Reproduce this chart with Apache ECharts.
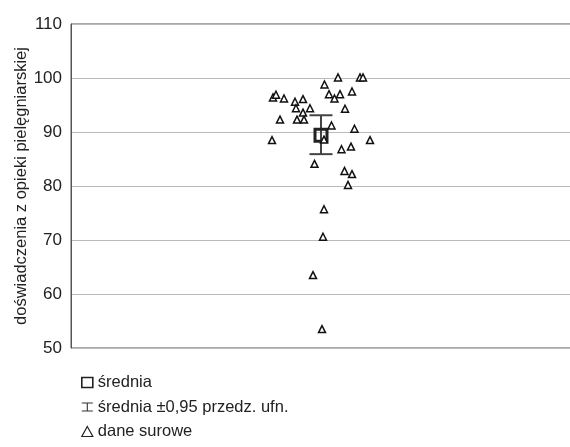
<!DOCTYPE html>
<html>
<head>
<meta charset="utf-8">
<script src="https://cdn.jsdelivr.net/npm/echarts@6/dist/echarts.min.js"></script>
<style>
  html, body { margin: 0; padding: 0; background: #fff; }
  #chart { width: 570px; height: 447px; }
</style>
</head>
<body>
<div id="chart"></div>
<script>
// surowe dane: przesunięcie w poziomie (rozrzut) i wartość
const rawJitter = [-4.8, -4.5, -3.7, -2.6, -1.8, -2.5, -1.8, -1.1, -4.1, -2.4, -1.7, -4.9,
                   1.7, 3.9, 4.2, 0.35, 0.8, 1.9, 1.35, 3.1, 2.4, 1.05, 3.35, 4.9,
                   0.3, 2.05, 3.0, -0.65, 2.35, 3.1, 2.7, 0.3, 0.2, -0.8, 0.1];
const rawValues = [96.4, 96.9, 96.2, 95.6, 96.1, 94.4, 93.6, 94.4, 92.3, 92.3, 92.3, 88.5,
                   100.1, 100.1, 100.1, 98.8, 97.0, 97.0, 96.2, 97.5, 94.3, 91.2, 90.6, 88.5,
                   88.6, 86.8, 87.3, 84.1, 82.8, 82.2, 80.2, 75.7, 70.6, 63.5, 53.5];
const meanValue = 89.4;
const ciLow = 85.9;
const ciHigh = 93.1;
const yTicks = [50, 60, 70, 80, 90, 100, 110];
const seriesNames = ['średnia', 'średnia ±0,95 przedz. ufn.', 'dane surowe'];
const yAxisTitle = 'doświadczenia z opieki pielęgniarskiej';

const font = "'Liberation Sans Narrow', 'Arial Narrow', 'Liberation Sans', Arial, sans-serif";

const chart = echarts.init(document.getElementById('chart'), null, { renderer: 'canvas' });

const rawData = rawValues.map((v, i) => [rawJitter[i], v]);

const option = {
  animation: false,
  backgroundColor: '#fff',
  grid: {
    left: 71, right: -1, top: 24, bottom: 99,
    outerBoundsMode: 'none',
    show: true, borderColor: '#555', borderWidth: 1, backgroundColor: 'transparent'
  },
  xAxis: {
    type: 'value', min: -25, max: 25,
    axisLine: { show: false }, axisTick: { show: false },
    axisLabel: { show: false }, splitLine: { show: false }
  },
  yAxis: {
    type: 'value', min: yTicks[0], max: yTicks[yTicks.length - 1], interval: 10,
    name: yAxisTitle, nameLocation: 'middle', nameRotate: 90, nameGap: 41,
    nameMoveOverlap: false,
    nameTextStyle: { fontFamily: font, fontSize: 16.5, color: '#222' },
    axisLine: { show: true, onZero: false, lineStyle: { color: '#555' } },
    axisTick: { show: false },
    axisLabel: { fontFamily: font, fontSize: 17, color: '#222', margin: 9 },
    splitLine: { show: true, lineStyle: { color: '#bbb', width: 1 } }
  },
  legend: {
    orient: 'vertical', left: 76, top: 369,
    itemWidth: 11, itemHeight: 10, itemGap: 7.5,
    textStyle: { fontFamily: font, fontSize: 16.5, color: '#222' },
    data: [
      { name: seriesNames[0], icon: 'rect',
        itemStyle: { color: '#fff', borderColor: '#222', borderWidth: 1.6 } },
      { name: seriesNames[1],
        icon: 'path://M0,0h12v1.3h-12z M5.4,0h1.2v10h-1.2z M0,8.7h12v1.3h-12z',
        itemStyle: { color: '#333', borderWidth: 0 } },
      { name: seriesNames[2], icon: 'triangle',
        itemStyle: { color: '#fff', borderColor: '#222', borderWidth: 1.2 } }
    ]
  },
  series: [
    {
      name: seriesNames[1],
      type: 'custom',
      z: 2,
      data: [[0, ciLow, ciHigh]],
      renderItem: function (params, api) {
        const top = api.coord([api.value(0), api.value(2)]);
        const bot = api.coord([api.value(0), api.value(1)]);
        const hw = 11.5;
        const style = { stroke: '#444', lineWidth: 2 };
        return {
          type: 'group',
          children: [
            { type: 'line', shape: { x1: top[0], y1: top[1], x2: bot[0], y2: bot[1] }, style: style },
            { type: 'line', shape: { x1: top[0] - hw, y1: top[1], x2: top[0] + hw, y2: top[1] }, style: style },
            { type: 'line', shape: { x1: bot[0] - hw, y1: bot[1], x2: bot[0] + hw, y2: bot[1] }, style: style }
          ]
        };
      }
    },
    {
      name: seriesNames[0],
      type: 'scatter',
      z: 3,
      symbol: 'rect',
      symbolSize: 12,
      itemStyle: { color: 'rgba(255,255,255,0)', borderColor: '#222', borderWidth: 3, opacity: 1 },
      data: [[0, meanValue]]
    },
    {
      name: seriesNames[2],
      type: 'scatter',
      z: 4,
      symbol: 'triangle',
      symbolSize: 7,
      itemStyle: { color: '#fff', borderColor: '#111', borderWidth: 1.5, opacity: 1 },
      data: rawData
    }
  ]
};

chart.setOption(option);
</script>
</body>
</html>
